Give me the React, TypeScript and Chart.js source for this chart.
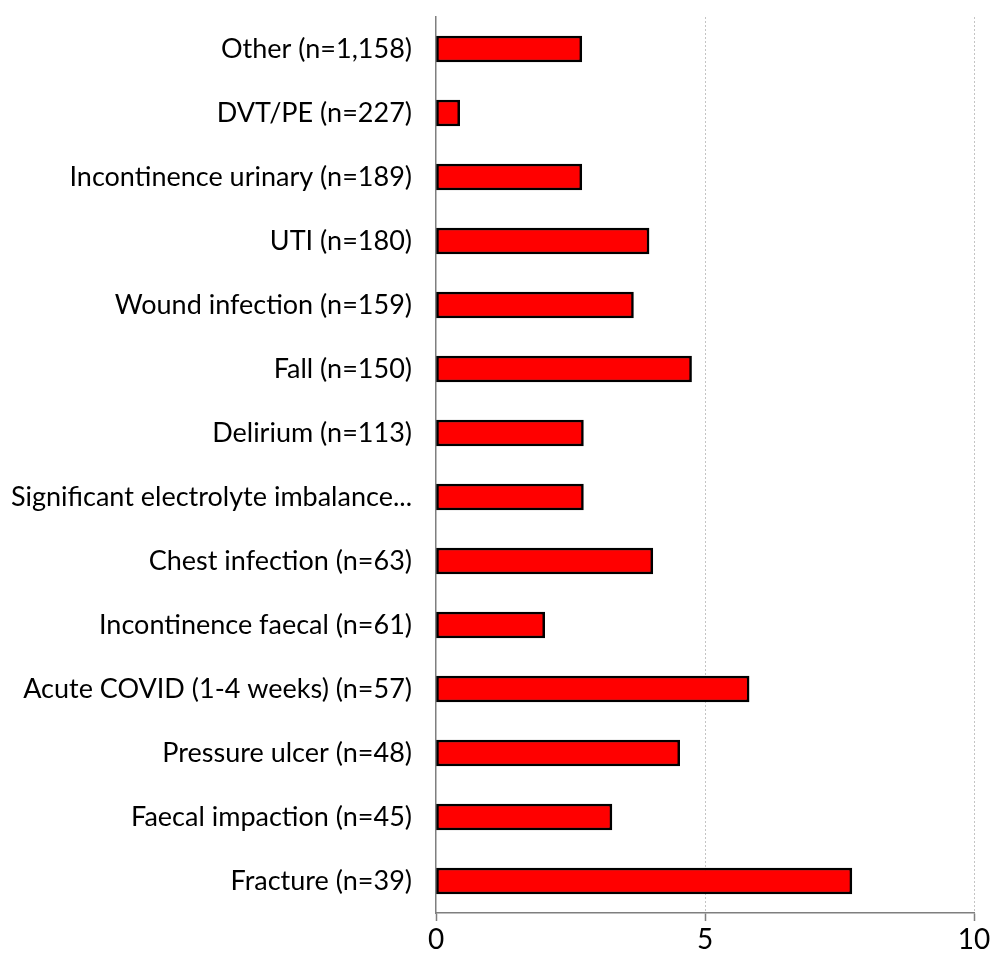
import React, { useEffect, useRef } from "react";
import { Chart, registerables } from "chart.js";

Chart.register(...registerables);

const categories: string[] = [
  "Other (n=1,158)",
  "DVT/PE (n=227)",
  "Incontinence urinary (n=189)",
  "UTI (n=180)",
  "Wound infection (n=159)",
  "Fall (n=150)",
  "Delirium (n=113)",
  "Significant electrolyte imbalance...",
  "Chest infection (n=63)",
  "Incontinence faecal (n=61)",
  "Acute COVID (1-4 weeks) (n=57)",
  "Pressure ulcer (n=48)",
  "Faecal impaction (n=45)",
  "Fracture (n=39)",
];

const values: number[] = [2.71, 0.44, 2.71, 3.96, 3.67, 4.75, 2.74, 2.74, 4.03, 2.02, 5.82, 4.53, 3.27, 7.73];

const xTicks: number[] = [0, 5, 10];

const FONT = "Lato";

export default function App() {
  const ref = useRef<HTMLCanvasElement | null>(null);

  useEffect(() => {
    if (!ref.current) return;
    const chart = new Chart(ref.current, {
      type: "bar",
      data: {
        labels: categories,
        datasets: [
          {
            data: values,
            backgroundColor: "#FF0000",
            borderColor: "#000000",
            borderWidth: 2.5,
            borderSkipped: false,
            barThickness: 26,
          },
        ],
      },
      options: {
        indexAxis: "y",
        animation: false,
        responsive: false,
        maintainAspectRatio: false,
        layout: { padding: { top: 17, right: 27, bottom: 0, left: 0 } },
        plugins: {
          legend: { display: false },
          tooltip: { enabled: false },
        },
        scales: {
          x: {
            min: 0,
            max: 10,
            afterBuildTicks: (scale: any) => {
              scale.ticks = xTicks.map((v) => ({ value: v }));
            },
            afterFit: (scale: any) => {
              scale.height = 957 - 913;
            },
            border: { display: true, color: "#7f7f7f", width: 1.5, dash: [2, 2] },
            grid: {
              display: true,
              drawOnChartArea: true,
              drawTicks: true,
              tickLength: 8,
              tickColor: "#7f7f7f",
              tickWidth: 1.5,
              color: (ctx: any) => (ctx.tick && ctx.tick.value === 0 ? "rgba(0,0,0,0)" : "#c4c4c4"),
              lineWidth: 1,
            } as any,
            ticks: {
              color: "#000000",
              font: { family: FONT, size: 28 },
              padding: 2,
              maxRotation: 0,
            },
          },
          y: {
            afterFit: (scale: any) => {
              scale.width = 436;
              scale.paddingTop = 0;
              scale.paddingBottom = 0;
            },
            border: { display: true, color: "#7f7f7f", width: 1.5 },
            grid: { display: false, drawTicks: false },
            ticks: {
              color: "#000000",
              font: { family: FONT, size: 27 },
              padding: 24,
              autoSkip: false,
            },
          },
        },
      },
    });
    return () => chart.destroy();
  }, []);

  return (
    <div style={{ position: "fixed", left: 0, top: 0, width: 1001, height: 957, background: "#fff" }}>
      <canvas ref={ref} width={1001} height={957} style={{ width: 1001, height: 957, display: "block" }} />
    </div>
  );
}
